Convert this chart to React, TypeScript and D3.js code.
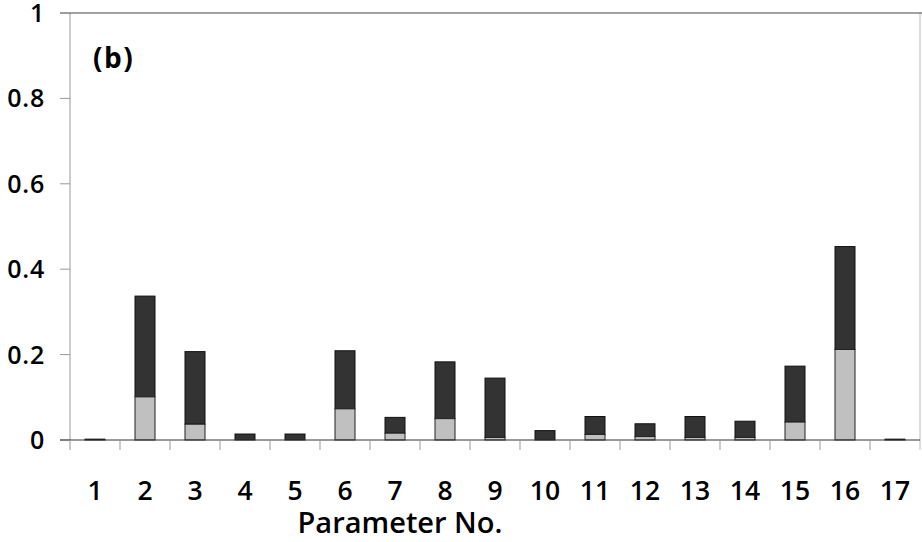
import React from "react";
import * as d3 from "d3";

const categories = ["1","2","3","4","5","6","7","8","9","10","11","12","13","14","15","16","17"];
const lightValues = [0, 0.101, 0.037, 0, 0, 0.073, 0.016, 0.05, 0.006, 0, 0.013, 0.008, 0.006, 0.006, 0.042, 0.212, 0];
const totalValues = [0.002, 0.337, 0.207, 0.014, 0.014, 0.209, 0.053, 0.183, 0.145, 0.022, 0.055, 0.038, 0.055, 0.044, 0.173, 0.453, 0.002];
const yTicks = [0, 0.2, 0.4, 0.6, 0.8, 1];
const yTickLabels = ["0", "0.2", "0.4", "0.6", "0.8", "1"];

export default function App() {
  const W = 922, H = 542;
  const left = 70, right = 920, top = 13, bottom = 440;
  const x = d3.scaleBand<string>().domain(categories).range([left, right]).paddingInner(0.6).paddingOuter(0.3);
  const xb = d3.scaleBand<string>().domain(categories).range([left, right]).padding(0);
  const y = d3.scaleLinear().domain([0, 1]).range([bottom, top]);
  const font = "'Open Sans', sans-serif";
  return (
    <svg width={W} height={H} style={{ position: "absolute", left: 0, top: 0, background: "#fff" }}>
      <line x1={left} x2={left} y1={top} y2={bottom} stroke="#999" strokeWidth={1} />
      <line x1={right} x2={right} y1={top} y2={bottom + 10} stroke="#bbb" strokeWidth={1} />
      <line x1={60} x2={W} y1={top} y2={top} stroke="#444" strokeWidth={1} />
      {yTicks.map((t, i) => (
        <g key={t}>
          <line x1={60} x2={left} y1={y(t)} y2={y(t)} stroke="#999" />
          <text x={45} y={y(t) + 9} textAnchor="end" fontFamily={font} fontWeight={600} fontSize={25} letterSpacing={0.8} fill="#000">{yTickLabels[i]}</text>
        </g>
      ))}
      {categories.map((c, i) => {
        const bx = x(c)!;
        const bw = x.bandwidth();
        return (
          <g key={c}>
            <rect x={bx} y={y(totalValues[i])} width={bw} height={y(lightValues[i]) - y(totalValues[i])} fill="#333333" stroke="#111" strokeWidth={1} />
            {lightValues[i] > 0 && (
              <rect x={bx} y={y(lightValues[i])} width={bw} height={bottom - y(lightValues[i])} fill="#c0c0c0" stroke="#222" strokeWidth={1} />
            )}
          </g>
        );
      })}
      <line x1={60} x2={right} y1={bottom} y2={bottom} stroke="#333" strokeWidth={1} />
      {categories.map((c) => (
        <line key={"t" + c} x1={xb(c)!} x2={xb(c)!} y1={bottom} y2={bottom + 10} stroke="#999" />
      ))}
      {categories.map((c) => (
        <text key={"l" + c} x={xb(c)! + xb.bandwidth() / 2} y={500} textAnchor="middle" fontFamily={font} fontWeight={600} fontSize={26.5} fill="#000">{c}</text>
      ))}
      <text x={400} y={533} textAnchor="middle" fontFamily={font} fontWeight={600} fontSize={29} fill="#000">Parameter No.</text>
      <text x={93} y={68} fontFamily={font} fontWeight="bold" fontSize={28} letterSpacing={1.5} fill="#000">(b)</text>
    </svg>
  );
}
